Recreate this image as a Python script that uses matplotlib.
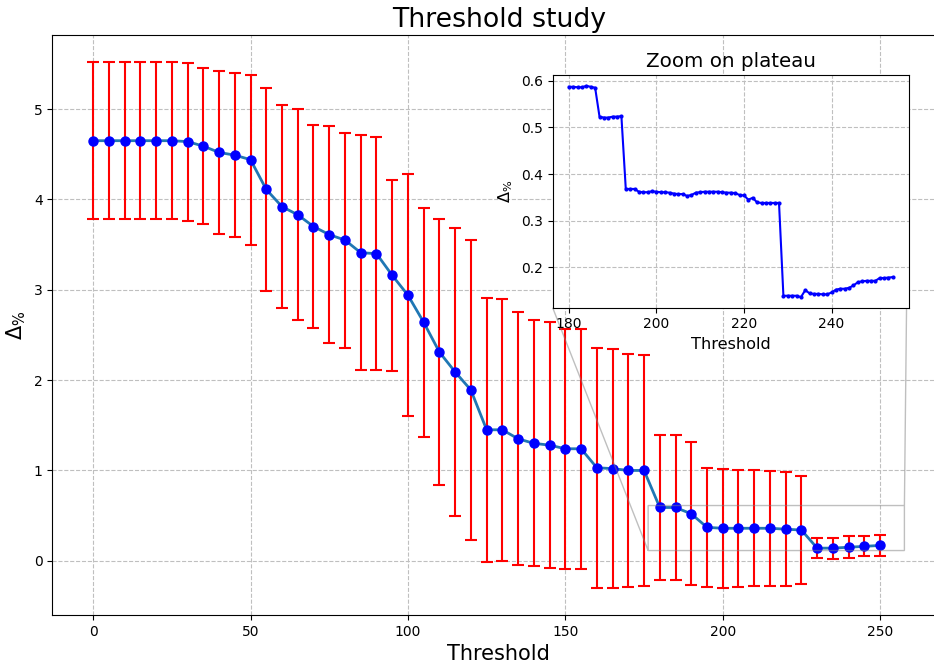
import matplotlib
matplotlib.use("Agg")
import matplotlib.pyplot as plt

# Ana grafik verisi (esik degerleri, ortalama ve hata)
esik = list(range(0, 251, 5))
delta = [4.65, 4.65, 4.65, 4.65, 4.65, 4.65, 4.64, 4.59, 4.52, 4.49,
         4.44, 4.11, 3.92, 3.83, 3.70, 3.61, 3.55, 3.41, 3.40, 3.16,
         2.94, 2.64, 2.31, 2.09, 1.89, 1.45, 1.45, 1.35, 1.30, 1.28,
         1.24, 1.24, 1.03, 1.02, 1.00, 1.00, 0.59, 0.59, 0.52, 0.37,
         0.36, 0.36, 0.36, 0.36, 0.35, 0.34, 0.14, 0.14, 0.15, 0.16,
         0.17]
hata = [0.87, 0.87, 0.87, 0.87, 0.87, 0.87, 0.875, 0.86, 0.90, 0.91,
        0.94, 1.12, 1.125, 1.17, 1.12, 1.20, 1.19, 1.30, 1.29, 1.06,
        1.34, 1.27, 1.47, 1.59, 1.66, 1.46, 1.45, 1.40, 1.36, 1.36,
        1.33, 1.33, 1.33, 1.32, 1.29, 1.28, 0.80, 0.80, 0.79, 0.66,
        0.66, 0.65, 0.64, 0.635, 0.63, 0.60, 0.11, 0.115, 0.12, 0.11,
        0.12]

# Plato bolgesi (yakinlastirma)
esik_zoom = list(range(180, 255))
delta_zoom = [0.587, 0.587, 0.586, 0.586, 0.589, 0.587, 0.585, 0.523, 0.521, 0.521,
              0.523, 0.523, 0.524, 0.368, 0.368, 0.368, 0.362, 0.361, 0.361, 0.363,
              0.362, 0.361, 0.361, 0.360, 0.358, 0.357, 0.357, 0.353, 0.355, 0.360,
              0.361, 0.362, 0.362, 0.362, 0.362, 0.361, 0.360, 0.360, 0.359, 0.355,
              0.354, 0.345, 0.349, 0.339, 0.338, 0.338, 0.338, 0.338, 0.338, 0.139,
              0.139, 0.139, 0.139, 0.136, 0.151, 0.144, 0.143, 0.143, 0.142, 0.142,
              0.146, 0.152, 0.154, 0.154, 0.156, 0.161, 0.168, 0.170, 0.171, 0.171,
              0.171, 0.177, 0.177, 0.178, 0.179]

fig = plt.figure(figsize=(9.34, 6.64), dpi=100)
ax = fig.add_axes([0.0562, 0.0738, 0.9556, 0.8735])

ax.errorbar(esik, delta, yerr=hata, fmt="o", color="b", markersize=6.5,
            ecolor="r", elinewidth=1.5, capsize=4, capthick=1.5)
ax.plot(esik, delta, color="C0", linewidth=2)
ax.grid(True, linestyle="--", color="0.75")
ax.set_title("Threshold study", fontsize=19.3)
ax.set_xlabel("Threshold", fontsize=15)
ax.set_ylabel(r"$\Delta_{\%}$", fontsize=15)

# Ic grafik
axin = ax.inset_axes([0.5604, 0.5298, 0.3993, 0.4007])
axin.plot(esik_zoom, delta_zoom, "b.-", markersize=4, linewidth=1.5)
axin.grid(True, linestyle="--", color="0.75")
axin.set_title("Zoom on plateau", fontsize=14.3)
axin.set_xlabel("Threshold", fontsize=11.6)
axin.set_ylabel(r"$\Delta_{\%}$", fontsize=11.6)
ax.indicate_inset_zoom(axin, edgecolor="gray")

ax.set_xlim(-12.9, 270.6)
ax.set_ylim(-0.60, 5.82)

plt.savefig("out.png", dpi=100)
